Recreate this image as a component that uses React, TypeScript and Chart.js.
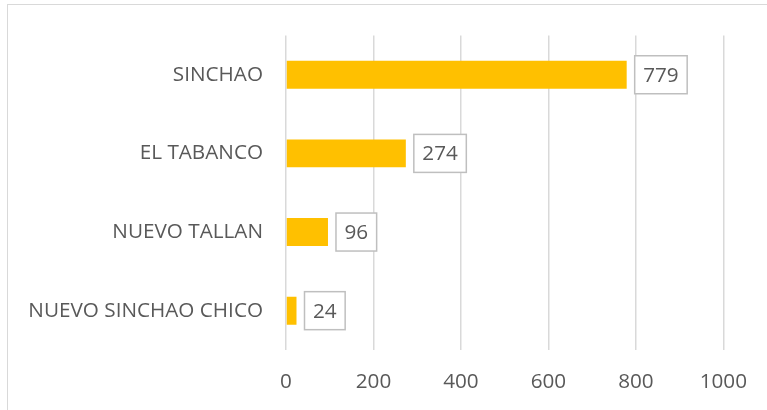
import React, { useEffect, useRef } from "react";
import { Chart, registerables } from "chart.js";

Chart.register(...registerables);

const categories = ["SINCHAO", "EL TABANCO", "NUEVO TALLAN", "NUEVO SINCHAO CHICO"];
const values = [779, 274, 96, 24];
const xMin = 0;
const xMax = 1000;
const xStep = 200;

const FONT = "'Open Sans', sans-serif";
const TEXT = "#595959";
const FS = 20.7;

const boxLabels = {
  id: "boxLabels",
  afterDatasetsDraw(chart: any) {
    const ctx = chart.ctx;
    const meta = chart.getDatasetMeta(0);
    ctx.save();
    ctx.font = `${FS}px ${FONT}`;
    ctx.textBaseline = "middle";
    ctx.textAlign = "left";
    meta.data.forEach((bar: any, i: number) => {
      const txt = String(chart.data.datasets[0].data[i]);
      const w = ctx.measureText(txt).width;
      const bx = bar.x + 8;
      const bh = 38;
      const bw = w + 17;
      const by = bar.y - bh / 2;
      ctx.fillStyle = "#ffffff";
      ctx.fillRect(bx, by, bw, bh);
      ctx.strokeStyle = "#bfbfbf";
      ctx.lineWidth = 1.5;
      ctx.strokeRect(bx, by, bw, bh);
      ctx.fillStyle = TEXT;
      ctx.fillText(txt, bx + 8.5, bar.y + 1);
    });
    ctx.restore();
  },
};

export default function App() {
  const ref = useRef<HTMLCanvasElement>(null);
  useEffect(() => {
    const chart = new Chart(ref.current!, {
      type: "bar",
      data: {
        labels: categories,
        datasets: [
          {
            data: values,
            backgroundColor: "#FFC000",
            borderWidth: 0,
            barPercentage: 0.355,
            categoryPercentage: 1,
          },
        ],
      },
      options: {
        indexAxis: "y",
        responsive: false,
        animation: false,
        maintainAspectRatio: false,
        layout: { padding: { top: 33, right: 43, left: 0, bottom: 0 } },
        plugins: { legend: { display: false }, tooltip: { enabled: false } },
        scales: {
          x: {
            min: xMin,
            max: xMax,
            ticks: {
              stepSize: xStep,
              color: TEXT,
              font: { family: FONT, size: FS },
              padding: 20,
              maxRotation: 0,
              callback: (v: any) => String(v),
            },
            grid: { color: "#d9d9d9", lineWidth: 1.5, drawTicks: false },
            border: { display: false },
            afterFit: (s: any) => {
              s.height = 60;
            },
          },
          y: {
            ticks: {
              color: TEXT,
              font: { family: FONT, size: FS },
              padding: 23,
            },
            grid: { display: false, drawTicks: false },
            border: { display: false },
            afterFit: (s: any) => {
              s.width = 286;
            },
          },
        },
      },
      plugins: [boxLabels],
    });
    return () => chart.destroy();
  }, []);
  return (
    <div style={{ position: "fixed", left: 0, top: 0, width: 767, height: 410, background: "#fff", overflow: "hidden" }}>
      <div
        style={{
          position: "absolute",
          left: 7,
          top: 4,
          width: 800,
          height: 450,
          border: "1.5px solid #d9d9d9",
          boxSizing: "border-box",
        }}
      />
      <canvas ref={ref} width={767} height={410} style={{ position: "absolute", left: 0, top: 0 }} />
    </div>
  );
}
